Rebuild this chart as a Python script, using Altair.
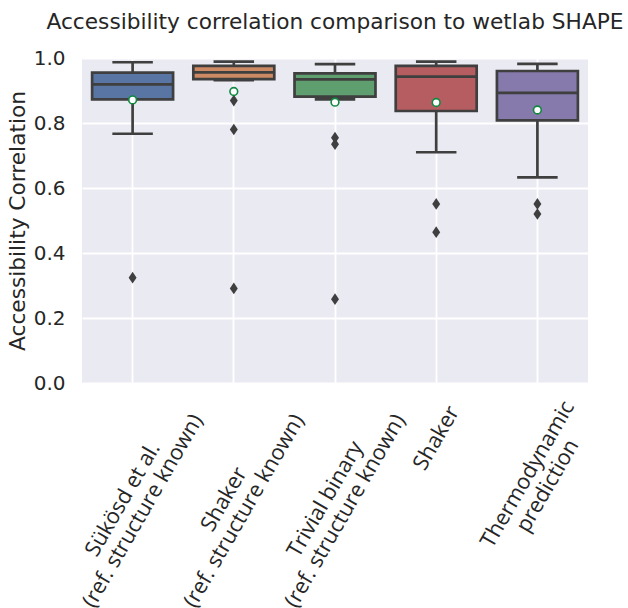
import altair as alt
import pandas as pd

# ---- data ----
categories = [
    "Sükösd et al.\n(ref. structure known)",
    "Shaker\n(ref. structure known)",
    "Trivial binary\n(ref. structure known)",
    "Shaker",
    "Thermodynamic\nprediction",
]
whisker_high = [0.987, 0.989, 0.981, 0.989, 0.982]
q3 = [0.955, 0.976, 0.953, 0.976, 0.960]
median = [0.919, 0.956, 0.934, 0.943, 0.893]
q1 = [0.873, 0.935, 0.881, 0.837, 0.808]
whisker_low = [0.767, 0.932, 0.873, 0.710, 0.633]
mean = [0.871, 0.897, 0.864, 0.863, 0.840]
outliers = [
    [0.324],
    [0.869, 0.780, 0.291],
    [0.755, 0.735, 0.258],
    [0.551, 0.464],
    [0.551, 0.520],
]
y_ticks = [0.0, 0.2, 0.4, 0.6, 0.8, 1.0]

# ---- styles ----
box_colors = ["#5875a4", "#cc8963", "#5f9e6e", "#b55d60", "#857aab"]
edge = "#3f3f3f"
text_color = "#262626"
lw = 2.7
line_h = 23
label_y = [447, 447, 447, 380, 422]  # pixel placement of rotated tick labels
label_lines = [2, 2, 2, 1, 2]

stats = pd.DataFrame({
    "cat": categories, "idx": list(range(len(categories))),
    "wl": whisker_low, "q1": q1, "med": median, "q3": q3, "wh": whisker_high,
    "mean": mean,
})
out_df = pd.DataFrame(
    [{"cat": c, "val": v} for c, vals in zip(categories, outliers) for v in vals]
)

X = alt.X(
    "cat:N",
    sort=categories,
    scale=alt.Scale(domain=categories, paddingInner=0, paddingOuter=0),
    axis=alt.Axis(labels=False, ticks=False, domain=False, grid=True,
                  gridColor="white", gridWidth=1.8, title=None),
)
YTITLE = "Accessibility Correlation"


def Y(field):
    return alt.Y(
        field,
        title=YTITLE,
        scale=alt.Scale(domain=[0, 1], nice=False, zero=True),
        axis=alt.Axis(
            values=y_ticks, format=".1f", ticks=False, tickSize=0, domain=False,
            grid=True, gridColor="white", gridWidth=1.8,
            labelFont="DejaVu Sans", labelFontSize=20, labelColor=text_color,
            labelPadding=17,
            titleFont="DejaVu Sans", titleFontSize=21.7, titleFontWeight="normal",
            titleColor=text_color, titlePadding=4,
        ),
    )


base = alt.Chart(stats)

whiskers = base.mark_rule(color=edge, strokeWidth=lw).encode(
    x=X, y=Y("wl:Q"), y2="wh:Q"
)
boxes = base.mark_bar(
    stroke=edge, strokeWidth=lw, width=alt.RelativeBandSize(0.8), opacity=1
).encode(
    x=X, y=Y("q1:Q"), y2="q3:Q",
    color=alt.Color("cat:N", scale=alt.Scale(domain=categories, range=box_colors),
                    legend=None),
)
med = base.mark_tick(color=edge, size=81, thickness=lw, opacity=1).encode(
    x=X, y=Y("med:Q")
)
cap_lo = base.mark_tick(color=edge, size=40.5, thickness=lw, opacity=1).encode(
    x=X, y=Y("wl:Q")
)
cap_hi = base.mark_tick(color=edge, size=40.5, thickness=lw, opacity=1).encode(
    x=X, y=Y("wh:Q")
)
fliers = alt.Chart(out_df).mark_point(
    shape="M0,-1L0.68,0L0,1L-0.68,0Z", filled=True, color=edge, size=137, opacity=1
).encode(x=X, y=Y("val:Q"))
means = base.mark_point(
    shape="circle", filled=True, fill="white", stroke="#108840", strokeWidth=1.6,
    size=60, opacity=1
).encode(x=X, y=Y("mean:Q"))

label_layers = []
for i in range(len(categories)):
    label_layers.append(
        base.transform_filter(alt.datum.idx == i).mark_text(
            angle=300, align="center", baseline="middle", lineBreak="\n",
            font="Open Sans", fontSize=21.7, color=text_color, lineHeight=line_h,
            dy=-(label_lines[i] - 1) * line_h / 2,
        ).encode(x=X, y=alt.value(label_y[i]), text="cat:N")
    )

chart = alt.layer(
    whiskers, boxes, med, cap_lo, cap_hi, fliers, means, *label_layers
).properties(
    width=506,
    height=325,
    padding={"left": 82, "top": 58, "right": 40, "bottom": 225},
    autosize=alt.AutoSizeParams(type="none"),
    title=alt.TitleParams(
        "Accessibility correlation comparison to wetlab SHAPE",
        font="DejaVu Sans", fontSize=21.7, fontWeight="normal", color=text_color,
        anchor="middle", frame="group", baseline="alphabetic", offset=-3,
    ),
).configure_view(stroke=None, fill="#eaeaf2")

chart.save("out.html", embed_options={"renderer": "svg", "actions": False})
